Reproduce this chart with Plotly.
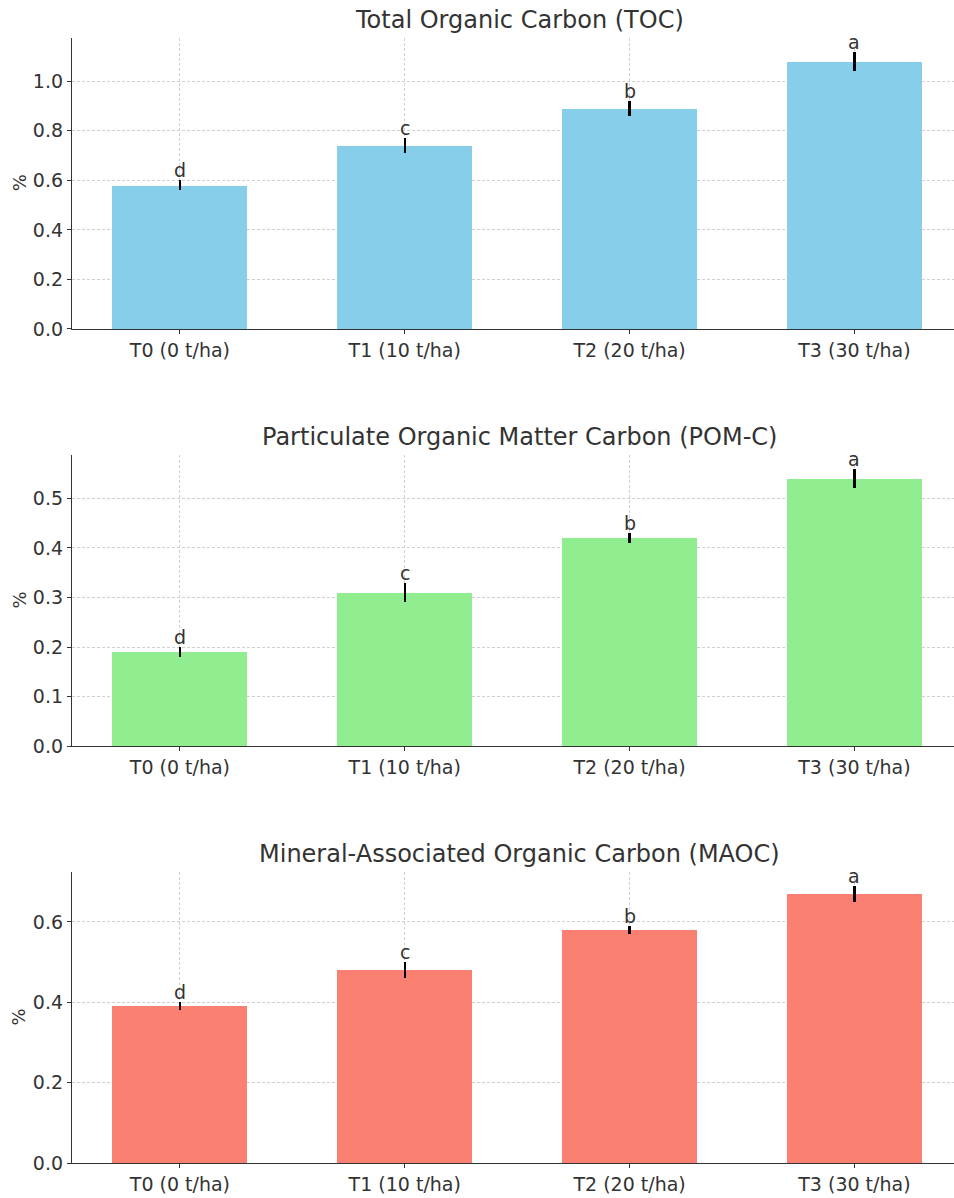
import plotly.graph_objects as go

categories = ["T0 (0 t/ha)", "T1 (10 t/ha)", "T2 (20 t/ha)", "T3 (30 t/ha)"]
letters = ["d", "c", "b", "a"]

titles = ["Total Organic Carbon (TOC)",
          "Particulate Organic Matter Carbon (POM-C)",
          "Mineral-Associated Organic Carbon (MAOC)"]

toc_values = [0.58, 0.74, 0.89, 1.08]
toc_errors = [0.02, 0.03, 0.03, 0.04]
pom_values = [0.19, 0.31, 0.42, 0.54]
pom_errors = [0.01, 0.02, 0.01, 0.02]
maoc_values = [0.39, 0.48, 0.58, 0.67]
maoc_errors = [0.01, 0.02, 0.01, 0.02]

colors = ["#87CEEB", "#90EE90", "#FA8072"]
panels = [(toc_values, toc_errors, [0, 0.2, 0.4, 0.6, 0.8, 1.0], "{:.1f}"),
          (pom_values, pom_errors, [0, 0.1, 0.2, 0.3, 0.4, 0.5], "{:.1f}"),
          (maoc_values, maoc_errors, [0, 0.2, 0.4, 0.6], "{:.1f}")]

W, H = 954, 1198
x0px, x1px = 72, 954
plot_px = [(38, 332), (459, 753), (880, 1174)]
title_px = [20, 441, 862]
title_cx = 519

fig = go.Figure()
FONT = "DejaVu Sans"
TXT = "#333333"
annotations = []

for i, ((vals, errs, ticks, fmt), col) in enumerate(zip(panels, colors)):
    n = "" if i == 0 else str(i + 1)
    xa = "x" + n
    ya = "y" + n
    fig.add_trace(go.Bar(
        x=list(range(len(categories))), y=vals, width=0.6,
        marker=dict(color=col, line=dict(width=0)),
        error_y=dict(type="data", array=errs, visible=True, color="black",
                     thickness=2.2, width=0),
        xaxis=xa, yaxis=ya, showlegend=False, hoverinfo="skip"))
    top = max(v + e for v, e in zip(vals, errs)) * 1.05
    top_px, bot_px = plot_px[i]
    dom = [1 - bot_px / H, 1 - top_px / H]
    axis_common = dict(showline=True, linecolor="#333333", linewidth=1.3,
                       ticks="outside", ticklen=4, tickcolor="#333333",
                       tickfont=dict(family=FONT, size=19, color=TXT),
                       showgrid=True, gridcolor="#d0d0d0", griddash="3px,2px",
                       gridwidth=0.8, zeroline=False, mirror=False)
    fig.update_layout(**{
        ("xaxis" + n): dict(axis_common, domain=[x0px / W, x1px / W],
                            range=[-0.48, 3.443], anchor=ya,
                            tickmode="array", tickvals=list(range(len(categories))),
                            ticktext=categories),
        ("yaxis" + n): dict(axis_common, domain=dom, range=[0, top], anchor=xa,
                            tickmode="array", tickvals=ticks,
                            ticktext=[fmt.format(t) for t in ticks]),
    })
    for j, (v, e, L) in enumerate(zip(vals, errs, letters)):
        annotations.append(dict(x=j, y=v + e, xref=xa, yref=ya, text=L,
                                showarrow=False, yanchor="bottom", yshift=-3,
                                font=dict(family=FONT, size=19, color=TXT)))
    annotations.append(dict(x=title_cx / W, y=1 - title_px[i] / H,
                            xref="paper", yref="paper", text=titles[i],
                            showarrow=False, xanchor="center", yanchor="middle",
                            font=dict(family=FONT, size=24, color=TXT)))
    annotations.append(dict(x=19 / W, y=1 - (top_px + bot_px) / 2 / H,
                            xref="paper", yref="paper", text="%", textangle=-90,
                            showarrow=False, xanchor="center", yanchor="middle",
                            font=dict(family=FONT, size=18, color=TXT)))

fig.update_layout(width=W, height=H, margin=dict(l=0, r=0, t=0, b=0),
                  paper_bgcolor="white", plot_bgcolor="white",
                  annotations=annotations, bargap=0)
fig.write_html("out.html", config={"displayModeBar": False},
               post_script="document.body.style.margin='0';"
                           "document.body.style.overflow='hidden';")
